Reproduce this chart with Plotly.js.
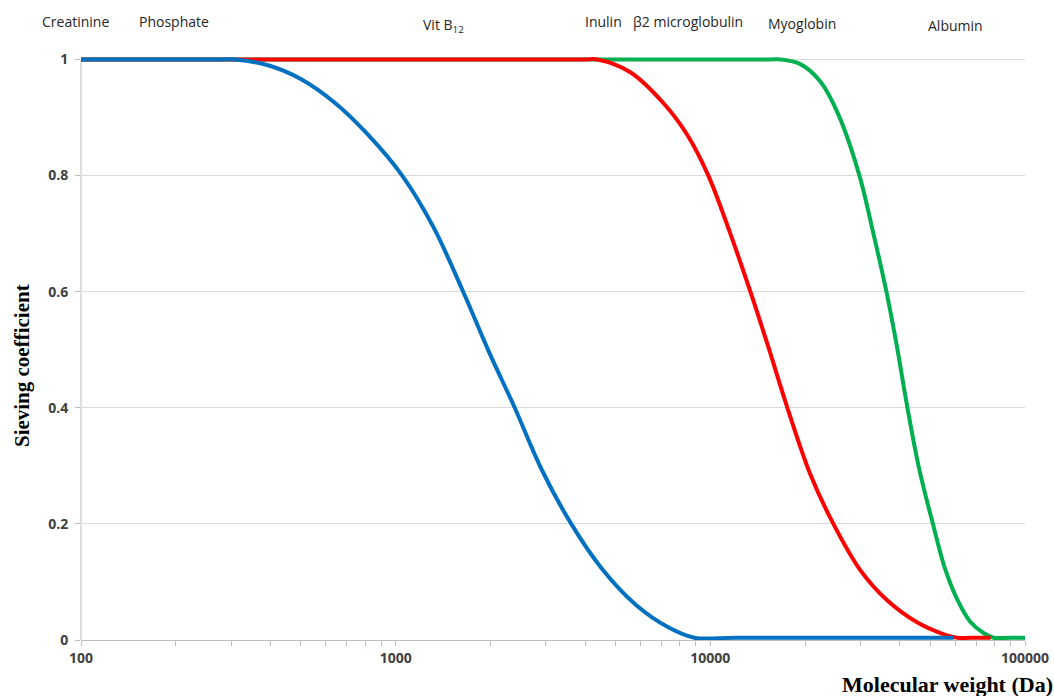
<!DOCTYPE html>
<html>
<head>
<meta charset="utf-8">
<script src="https://cdn.plot.ly/plotly-3.0.1.min.js"></script>
<style>html,body{margin:0;padding:0;background:#fff;}#chart{width:1054px;height:696px;}</style>
</head>
<body>
<div id="chart"></div>
<script>
// Molecular weight (Da) and sieving coefficient for each membrane curve
const blueMW = [100, 200, 280, 309, 393, 501, 642, 818, 1049, 1316, 1639, 1984, 2390, 2902, 3614, 4536, 5818, 7352, 8896, 12000, 30000, 59250];
const blueSC = [1, 1, 1, 1, 0.990, 0.966, 0.925, 0.870, 0.80, 0.712, 0.60, 0.495, 0.40, 0.295, 0.20, 0.122, 0.060, 0.022, 0.004, 0.004, 0.004, 0.004];

const redMW = [100, 1000, 3000, 4000, 4372, 5568, 7090, 8452, 9855, 11576, 13405, 15182, 17574, 20797, 24610, 29995, 36540, 45525, 53865, 61010, 70000, 77700];
const redSC = [1, 1, 1, 1, 1, 0.978, 0.925, 0.870, 0.80, 0.70, 0.60, 0.51, 0.40, 0.285, 0.20, 0.120, 0.068, 0.030, 0.012, 0.004, 0.004, 0.004];

const greenMW = [100, 1000, 10000, 15500, 16700, 19325, 22370, 25527, 29776, 32982, 36271, 39040, 42310, 46180, 50985, 55465, 61010, 67085, 73820, 79400, 89900, 100000];
const greenSC = [1, 1, 1, 1, 1, 0.992, 0.962, 0.905, 0.80, 0.70, 0.60, 0.51, 0.40, 0.293, 0.20, 0.126, 0.069, 0.031, 0.012, 0.004, 0.004, 0.004];

const seriesColors = ['#00B050', '#FF0000', '#0070C0'];

// Axis ticks
const yTickVals = [0, 0.2, 0.4, 0.6, 0.8, 1];
const yTickText = ['0', '0.2', '0.4', '0.6', '0.8', '1'];
const xTickVals = [100, 1000, 10000, 100000];
const xTickText = ['100', '1000', '10000', '100000'];
const xMinorMultipliers = [2, 3, 4, 5, 6, 7, 8, 9];

// Solute labels above the chart
const soluteNames = ['Creatinine', 'Phosphate', 'Vit B<sub>12</sub>', 'Inulin', 'β2 microglobulin', 'Myoglobin', 'Albumin'];
const solutePosX = [-0.0055, 0.0985, 0.384, 0.553, 0.643, 0.764, 0.926];
const solutePosY = [1.059, 1.059, 1.053, 1.059, 1.059, 1.056, 1.052];

const xMinorVals = [];
xTickVals.slice(0, -1).forEach(b => xMinorMultipliers.forEach(m => xMinorVals.push(b * m)));

function curve(x, y, color) {
  return {
    x: x, y: y, type: 'scatter', mode: 'lines',
    line: {color: color, width: 4, shape: 'spline', smoothing: 1},
    hoverinfo: 'x+y', showlegend: false
  };
}

const traces = [
  curve(greenMW, greenSC, seriesColors[0]),
  curve(redMW, redSC, seriesColors[1]),
  curve(blueMW, blueSC, seriesColors[2])
];

const annotations = soluteNames.map((t, i) => ({
  text: t, xref: 'paper', yref: 'paper', x: solutePosX[i], y: solutePosY[i],
  xanchor: 'center', yanchor: 'middle', showarrow: false,
  font: {family: 'Open Sans, sans-serif', size: 14, color: '#262626'}
}));
annotations.push({
  text: 'Sieving coefficient', xref: 'paper', yref: 'paper',
  x: -0.063, y: 0.47, xanchor: 'center', yanchor: 'middle', textangle: -90, showarrow: false,
  font: {family: 'Liberation Serif, Times New Roman, serif', size: 21, color: '#000', weight: 'bold'}
});
annotations.push({
  text: 'Molecular weight (Da)', xref: 'paper', yref: 'paper',
  x: 1.032, y: -0.076, xanchor: 'right', yanchor: 'middle', showarrow: false,
  font: {family: 'Liberation Serif, Times New Roman, serif', size: 22, color: '#000', weight: 'bold'}
});

const layout = {
  width: 1054, height: 696,
  margin: {l: 81, r: 29, t: 56, b: 56},
  paper_bgcolor: '#fff', plot_bgcolor: '#fff',
  xaxis: {
    type: 'log', range: [2, 5],
    tickmode: 'array', tickvals: xTickVals, ticktext: xTickText,
    ticks: 'outside', ticklen: 5, tickcolor: '#bfbfbf', tickwidth: 1,
    minor: {tickmode: 'array', tickvals: xMinorVals, ticks: 'outside', ticklen: 5, tickcolor: '#bfbfbf', tickwidth: 1, showgrid: false},
    showgrid: false, zeroline: false,
    showline: true, linecolor: '#bfbfbf', linewidth: 1,
    tickfont: {family: 'Open Sans, sans-serif', size: 14, color: '#404040', weight: 'bold'}
  },
  yaxis: {
    range: [0, 1.006],
    tickmode: 'array', tickvals: yTickVals, ticktext: yTickText,
    ticks: 'outside', ticklen: 5, tickcolor: '#bfbfbf', tickwidth: 1,
    showgrid: true, gridcolor: '#d9d9d9', gridwidth: 1,
    zeroline: false, showline: false,
    ticklabelstandoff: 4,
    tickfont: {family: 'Open Sans, sans-serif', size: 14, color: '#404040', weight: 'bold'}
  },
  shapes: [{
    type: 'line', xref: 'paper', yref: 'y', x0: 0, x1: 0, y0: 0, y1: 1,
    line: {color: '#bfbfbf', width: 1}, layer: 'below'
  }],
  annotations: annotations
};

Plotly.newPlot('chart', traces, layout, {displayModeBar: false, staticPlot: true});
</script>
</body>
</html>
